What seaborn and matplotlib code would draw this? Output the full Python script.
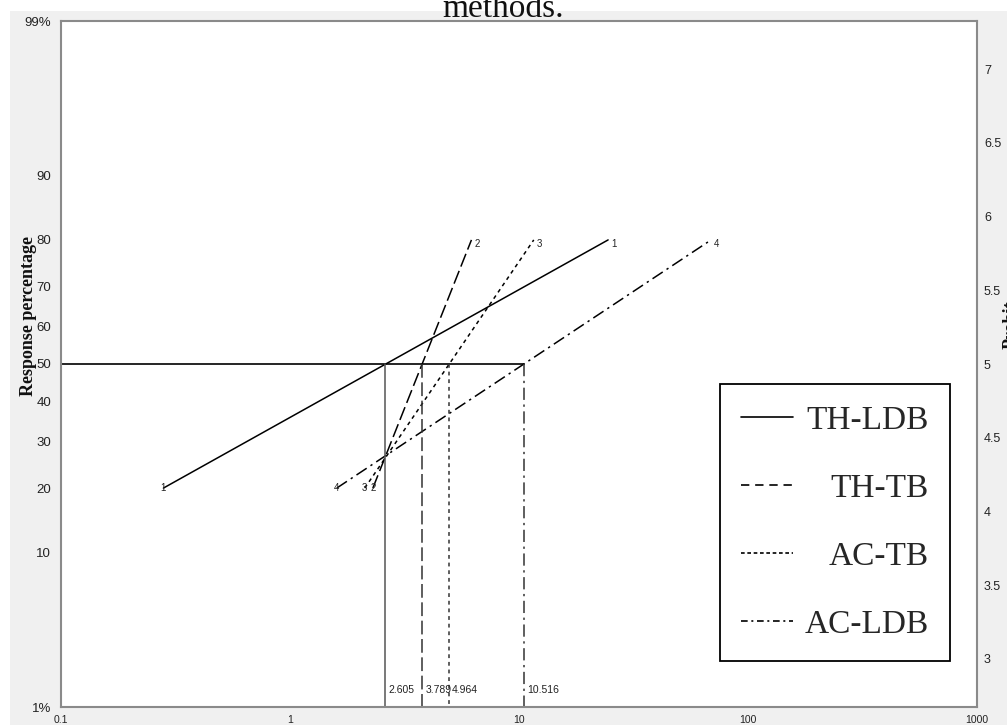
import numpy as np
import pandas as pd
import matplotlib
matplotlib.use("Agg")
import matplotlib.pyplot as plt
import seaborn as sns
from statistics import NormalDist
from matplotlib.lines import Line2D
from matplotlib.patches import Rectangle
from matplotlib import transforms

# ---------------- data ----------------
methods = ["TH-LDB", "TH-TB", "AC-TB", "AC-LDB"]
line_ids = ["1", "2", "3", "4"]
dose_20 = [0.28, 2.30, 2.12, 1.60]     # dose at 20 % response
dose_80 = [24.5, 6.20, 11.6, 69.0]     # dose at 80 % response
ld50 = [2.605, 3.789, 4.964, 10.516]   # dose at 50 % response
ld50_labels = ["2.605", "3.789", "4.964", "10.516"]
resp_low = 20
resp_mid = 50
resp_high = 80

pct_ticks = [1, 10, 20, 30, 40, 50, 60, 70, 80, 90, 99]
pct_labels = ["1%", "10", "20", "30", "40", "50", "60", "70", "80", "90", "99%"]
probit_ticks = [3, 3.5, 4, 4.5, 5, 5.5, 6, 6.5, 7]
probit_labels = ["3", "3.5", "4", "4.5", "5", "5.5", "6", "6.5", "7"]
x_ticks = [0.1, 1, 10, 100, 1000]
x_labels = ["0.1", "1", "10", "100", "1000"]

# ---------------- style ----------------
sns.set_theme(style="white")
plt.rcParams["font.family"] = ["Liberation Sans Narrow", "Liberation Sans", "DejaVu Sans"]
serif = ["Liberation Serif", "DejaVu Serif"]

dash_map = {
    "TH-LDB": "",
    "TH-TB": (9, 3),
    "AC-TB": (2.5, 2.5),
    "AC-LDB": (8, 3, 1.5, 3),
}
ls_map = {
    "TH-LDB": "-",
    "TH-TB": (0, (9, 3)),
    "AC-TB": (0, (2.5, 2.5)),
    "AC-LDB": (0, (8, 3, 1.5, 3)),
}
legend_ls = {
    "TH-LDB": "-",
    "TH-TB": (0, (5, 3.5)),
    "AC-TB": (0, (2.2, 1.6)),
    "AC-LDB": (0, (4, 2.2, 1.2, 2.2)),
}

_nd = NormalDist()


def to_probit(p):
    arr = np.asarray(p, dtype=float)
    flat = np.clip(arr.ravel() / 100.0, 1e-9, 1 - 1e-9)
    return np.array([_nd.inv_cdf(v) for v in flat]).reshape(arr.shape) + 5


def from_probit(y):
    arr = np.asarray(y, dtype=float)
    flat = np.clip(arr.ravel(), -50, 60)
    return np.array([_nd.cdf(v - 5) * 100 for v in flat]).reshape(arr.shape)


# ---------------- figure ----------------
W, H = 1007, 725
fig = plt.figure(figsize=(W / 100, H / 100), dpi=100)
fig.patch.set_facecolor("white")
fig.add_artist(Rectangle((10 / W, 0), 1, 1 - 11 / H, transform=fig.transFigure,
                         facecolor="#f0f0f0", edgecolor="none", zorder=-10))

left, right, top, bottom = 61, 977, 21, 707
ax = fig.add_axes([left / W, 1 - bottom / H, (right - left) / W, (bottom - top) / H])
ax.set_facecolor("white")
ax.set_xscale("log")
ax.set_yscale("function", functions=(to_probit, from_probit))
ax.set_xlim(x_ticks[0], x_ticks[-1])
ax.set_ylim(pct_ticks[0], pct_ticks[-1])

# probit regression lines
rows = []
for m, d20, d80 in zip(methods, dose_20, dose_80):
    rows.append({"method": m, "dose": d20, "response": resp_low})
    rows.append({"method": m, "dose": d80, "response": resp_high})
df = pd.DataFrame(rows)
sns.lineplot(data=df, x="dose", y="response", style="method", style_order=methods,
             dashes=dash_map, color="black", estimator=None, sort=False,
             legend=False, ax=ax, linewidth=1.1)

# 50 % reference lines
ax.plot([x_ticks[0], max(ld50)], [resp_mid, resp_mid], color="black", lw=1.2)
for m, d in zip(methods, ld50):
    ax.plot([d, d], [resp_mid, pct_ticks[0]], color="#333333" if m != "TH-LDB" else "#555555",
            ls=ls_map[m], lw=1.1)

# LD50 value labels at bottom
bt = transforms.blended_transform_factory(ax.transData, ax.transAxes)
for d, lab in zip(ld50, ld50_labels):
    ax.annotate(lab, (d, 0.025), xycoords=bt, xytext=(2, 0), textcoords="offset points",
                ha="left", va="center", fontsize=7.5, color="#222222")

# line id labels at ends
for lid, d20, d80 in zip(line_ids, dose_20, dose_80):
    ax.annotate(lid, (d80, resp_high), xytext=(2, -3), textcoords="offset points",
                ha="left", va="center", fontsize=7, color="#222222")
    ax.annotate(lid, (d20, resp_low), xytext=(0, 0), textcoords="offset points",
                ha="center", va="center", fontsize=7, color="#222222")

# axes decoration
ax.set_xticks(x_ticks)
ax.set_xticklabels(x_labels)
ax.xaxis.set_minor_locator(matplotlib.ticker.NullLocator())
ax.set_yticks(pct_ticks)
ax.set_yticklabels(pct_labels)
ax.yaxis.set_minor_locator(matplotlib.ticker.NullLocator())
ax.tick_params(axis="x", length=3, width=1, color="#7a5a8a", direction="in", pad=6,
               labelsize=7.5, labelcolor="#222222")
ax.tick_params(axis="y", length=0, pad=7, labelsize=9.5, labelcolor="#222222")
for s in ax.spines.values():
    s.set_color("#8a8a8a")
    s.set_linewidth(1.5)
ax.set_xlabel("")
ax.set_ylabel("Response percentage", family=serif, fontweight="bold", fontsize=13,
              color="#111111")
ax.yaxis.set_label_coords(-0.026, 0.57)

ax2 = ax.twinx()
ax2.set_ylim(float(to_probit(pct_ticks[0])), float(to_probit(pct_ticks[-1])))
ax2.set_yticks(probit_ticks)
ax2.set_yticklabels(probit_labels)
ax2.tick_params(axis="y", length=0, pad=5, labelsize=9, labelcolor="#222222")
for s in ax2.spines.values():
    s.set_visible(False)
ax2.set_ylabel("Probit", family=serif, fontweight="bold", fontsize=13, color="#111111")
ax2.yaxis.set_label_coords(1.0275, 0.557)
ax2.grid(False)
ax.grid(False)

# legend (handles at left, labels right-aligned as in the reference)
handles = [Line2D([], [], color="black", ls=legend_ls[m], lw=1.2) for m in methods]
leg = ax.legend(handles, methods, loc="upper right", bbox_to_anchor=(0.9705, 0.4708),
                borderaxespad=0, frameon=True, fancybox=False, framealpha=1,
                edgecolor="black", prop={"family": serif, "size": 24},
                handlelength=1.56, handletextpad=0.36, labelspacing=1.13, borderpad=0.63)
leg.get_frame().set_linewidth(1.3)

fig.canvas.draw()
renderer = fig.canvas.get_renderer()
try:
    texts = leg.get_texts()
    widths = [t.get_window_extent(renderer).width for t in texts]
    maxw = max(widths)
    items = []
    for col in leg._legend_handle_box.get_children():
        items.extend(col.get_children())
    for item, w in zip(items, widths):
        item.sep = item.sep + (maxw - w) * 72.0 / fig.dpi
except Exception:
    pass

# title (cut at top edge)
fig.text(0.5, 1 - 17 / H, "methods.", ha="center", va="baseline",
         family=serif, fontsize=24, color="#111111")

fig.savefig("out.png", dpi=100, facecolor=fig.get_facecolor())
